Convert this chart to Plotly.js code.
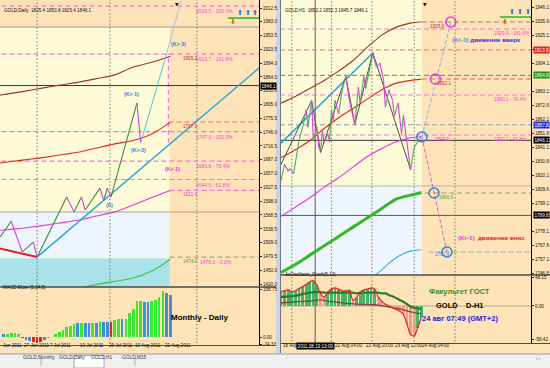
<!DOCTYPE html>
<html><head><meta charset="utf-8">
<script src="https://cdn.plot.ly/plotly-3.0.1.min.js"></script>
<style>html,body{margin:0;padding:0;background:#cbd5e2;}#chart{width:550px;height:368px;}</style>
</head><body><div id="chart"></div>
<script>
// ================= DATA : LEFT (GOLD, Daily) =================
const L_title = 'GOLD,Daily  1825.4 1853.8 1825.4 1846.1';
const L_maX    = [-2, 0, 5, 10, 15, 20, 25, 30, 35, 40, 45];
const L_maSlow = [1824, 1827, 1833, 1840, 1847, 1853, 1861, 1869, 1886, 1896, 1909];
const L_maMid  = [1679, 1681, 1686, 1691, 1697, 1703, 1712, 1721, 1728, 1742, 1767];
const L_maFast = [1534, 1536, 1540, 1545, 1551, 1557, 1566, 1575, 1590, 1606, 1621];
const L_maGreenX = [20, 22, 25, 30, 35, 40, 43, 45];
const L_maGreen  = [1408, 1414, 1419, 1426, 1433, 1448, 1462, 1474];
const L_maLabels = ['1905.2', '1767.9', '1621.4', '1474.0'];
const L_zzX = [-1, 2, 5, 8, 9, 17, 19, 21, 22, 26, 27, 28, 29, 36, 37];
const L_zzY = [1521, 1555, 1489, 1510, 1478, 1607, 1575, 1607, 1579, 1626, 1600, 1626, 1607, 1809, 1723];
const L_redX = [-2, 9], L_redY = [1498, 1478.1];
const L_trendX = [9, 70], L_trendY = [1478.1, 1890.4];
const L_projX = [37, 44, 48], L_projY = [1723, 1913.7, 2031];
const L_fibPrice = [2016.5, 1913.7, 1747.3, 1683.8, 1644.5, 1478.1];
const L_fibPct   = ['200.0%', '161.8%', '100.0%', '76.4%', '61.8%', '0.0%'];
const L_target = 1767.9;
const L_lastPrice = 1846.1;
const L_zoneTop = 1971.7, L_zoneMid = 1574.7, L_zoneLow = 1475;
const L_futureX = 44.8;
const L_gridX = [9, 28.7, 52.2];
const L_priceTicks = [2012.5,1983.0,1953.5,1923.5,1894.0,1864.5,1835.0,1805.0,1775.5,1746.0,1716.5,1687.0,1657.0,1627.5,1598.0,1568.5,1538.5,1509.0,1479.5,1450.0,1420.0];
const L_macdX = [0,1,2,3,4,5,6,7,8,9,10,11,12,13,14,15,16,17,18,19,20,21,22,23,24,25,26,27,28,29,30,31,32,33,34,35,36,37,38,39,40,41,42,43,44,45];
const L_macd  = [11,11,13,15,10,-3,-9,-11,-14,-20,-14,-9,-2,2,10,17,24,33,37,44,46,48,46,46,48,48,50,50,50,50,57,61,61,61,79,94,120,120,116,116,120,124,132,155,146,140];
const L_impulse = ['n','u','u','u','u','d','n','n','d','d','d','n','u','u','u','u','u','u','u','u','n','u','n','n','u','n','u','n','n','d','u','u','n','u','u','u','u','u','n','n','u','u','u','u','n','n'];
const L_macdTicks = [158.75, 0, -24.33], L_macdTickText = ['158.75', '0.00', '-24.33'];
const L_dateX = [5, 12, 20, 28, 35, 43];
const L_dateText = ['27 Jun 2011', '7 Jul 2011', '19 Jul 2011', '29 Jul 2011', '10 Aug 2011', '22 Aug 2011'];
const L_firstDate = 'Jun 2011';

// ================= DATA : RIGHT (GOLD, H1) =================
const R_title = 'GOLD,H1  1852.2 1852.3 1845.7 1846.1';
const R_maX    = [0, 8, 16, 24, 32, 40, 48, 56, 64, 72, 78];
const R_maSlow = [1874, 1879, 1885, 1891, 1898, 1906, 1916, 1925, 1931, 1934, 1935];
const R_maMid  = [1833, 1839, 1846, 1855, 1863, 1870, 1877, 1884, 1889, 1891, 1892];
const R_maFast = [1789, 1796, 1803, 1811, 1818, 1826, 1834, 1840, 1845, 1848, 1849];
const R_maGreen= [1747, 1753, 1760, 1767, 1774, 1781, 1788, 1795, 1802, 1805, 1807];
const R_maBlueX = [50, 56, 60, 64, 68, 72, 78];
const R_maBlue  = [1743, 1749, 1754, 1758, 1761, 1763, 1764];
const R_zzX = [0,2,4,5,7,10,12,14,15,17,18,20,21,22,23,24,26,27,28,29,30,32,34,36,38,41,43,44,46,47,51,53,55,57,58,60,62,63,65,67,68,70,72,74,78];
const R_zzY = [1816,1828,1823,1825,1821,1846,1856,1869,1856,1876,1846,1856,1841,1838,1853,1844,1851,1845,1869,1861,1876,1866,1884,1894,1876,1858,1886,1874,1894,1885,1911,1901,1904,1891,1871,1884,1876,1864,1874,1851,1865,1844,1824,1841,1849];
const R_gzX = [0, 17, 22, 36, 41, 51, 72];
const R_gzY = [1828, 1876, 1837, 1894, 1858, 1912, 1824];
const R_trendX = [0, 51], R_trendY = [1844, 1911.6];
const R_fibPrice = [1929.6, 1880.1, 1850.1];
const R_fibPct = ['161.8%', '76.4%', '61.8%'];
const R_levels = [1913.9, 1894.8, 1857.8];
const R_lastPrice = 1846.1, R_lowLine = 1789.8;
const R_zoneMid = 1811.9;
const R_futureX = 78.3;
const R_upX = [78.3, 94.4], R_upY = [1848.6, 1934.85];
const R_dnX = [78.3, 92.2], R_dnY = [1848.6, 1762.35];
const R_magCircX = [94.4, 85.8], R_magCircY = [1934.85, 1892.1];
const R_bluCircX = [78.3, 85, 92.2], R_bluCircY = [1848.6, 1806.6, 1762.35];
const R_targets = [1934.85, 1892.1, 1806.6, 1762.35];
const R_targetLabels = ['1935.0', '1892.1', '1848.6', '1806.6', '1762.4'];
const R_gridX = [6, 28, 50.5, 74, 96.7];
const R_crossX = 19, R_crossText = '2011.08.19 13:00';
const R_priceTicks = [1946.1,1935.6,1925.1,1914.6,1904.1,1883.1,1872.6,1862.1,1851.6,1841.1,1830.6,1820.1,1809.6,1799.1,1778.1,1767.6,1757.1,1746.6];
const R_tagPrice = [1913.9, 1894.8, 1857.8, 1846.1, 1789.8];
const R_oscX = [0,2,4,6,8,10,12,14,16,18,20,22,24,26,28,30,32,34,36,38,40,42,44,46,48,50,52,54,56,58,60,62,64,66,68,70,72,74,76,78];
const R_osc  = [24,25,27,24,25,29,32,36,40,42,35,20,15,23,28,30,28,25,25,26,9,14,23,27,28,30,28,15,8,3,0,-3,-6,-9,-14,-30,-48,-50,-36,-18];
const R_sig  = [15,15,16,16,17,18,20,21,22,23,23,23,22,22,22,22,22,22,22,22,22,21,22,22,22,22,22,22,21,21,18,16,13,10,7,3,-1,-3,-4,-5];
const R_slowX = [0, 8, 16, 22, 28, 34, 42, 52, 60, 66, 72, 78];
const R_slow  = [5, 7, 8, 10, 7, 5, 3, 2, -2, -5, -10, -13];
const R_oscTicks = [48.15, 0, -56.42], R_oscTickText = ['48.15', '0.00', '-56.42'];
const R_dateX = [0, 29, 46, 62, 77];
const R_dateText = ['18 Aug 2011', '22 Aug 04:00', '22 Aug 20:00', '23 Aug 12:00', '24 Aug 04:00'];
const TABS = ['GOLD,Monthly', 'GOLD,Daily', 'GOLD,H1', 'GOLD,M15'];

// ================= STYLE =================
const FONT = 'Liberation Sans, Arial, sans-serif';
const PEACH = '#fde3b7', YELLOW = '#fdfad7', LBLUE = '#eef5fc', CYANZ = '#a9e2e9', FRAME = '#cbd5e2';
const PINK = '#f27ad4', PINKTXT = '#ff3fc8';
const P = px => px / 550, Q = py => 1 - py / 368;
const tickFont = {family: FONT, size: 4.6, color: '#111'};

const shapes = [];
function rectPaper(x0, x1, y0, y1, fill, layer, line) {
  shapes.push({type: 'rect', xref: 'paper', yref: 'paper', x0: P(x0), x1: P(x1), y0: Q(y1), y1: Q(y0),
    fillcolor: fill, line: line || {width: 0}, layer: layer || 'below'});
}
function linePaper(x0, x1, y0, y1, color, w) {
  shapes.push({type: 'line', xref: 'paper', yref: 'paper', x0: P(x0), x1: P(x1), y0: Q(y0), y1: Q(y1),
    line: {color: color, width: w || 1}, layer: 'above'});
}
function zone(xr, yr, x0, x1, y0, y1, fill) {
  shapes.push({type: 'rect', xref: xr, yref: yr, x0, x1, y0, y1, fillcolor: fill, line: {width: 0}, layer: 'below'});
}
function hline(xr, yr, y, x0, x1, color, dash, w) {
  shapes.push({type: 'line', xref: xr, yref: yr, x0, x1, y0: y, y1: y, line: {color, width: w || 1, dash: dash || 'solid'}, layer: 'below'});
}
function vline(xr, yr, x, y0, y1, color, dash, w) {
  shapes.push({type: 'line', xref: xr, yref: yr, x0: x, x1: x, y0, y1, line: {color, width: w || 1, dash: dash || 'solid'}, layer: 'below'});
}
const DASH = '5px,3px', DOT = '1.5px,2px';

rectPaper(0, 276, 0, 353, PEACH);
rectPaper(280, 550, 0, 353, PEACH);
rectPaper(0, 550, 354, 368, '#efefef');
linePaper(0, 550, 354, 354, '#9aa6b8', 1);
rectPaper(74, 104, 355.5, 368, '#ffffff', 'above', {color: '#8a96aa', width: 0.8});
[41, 135].forEach(x => linePaper(x, x, 358, 366, '#a0a0a0', 0.8));
linePaper(280.5, 280.5, 0, 353, '#6f7780', 1);

zone('x', 'y', -5, L_futureX, L_zoneMid, L_zoneTop, YELLOW);
zone('x', 'y', -5, L_futureX, L_zoneLow, L_zoneMid, LBLUE);
zone('x', 'y', -5, L_futureX, 1300, L_zoneLow, CYANZ);
hline('x', 'y', L_zoneTop, -5, 80, '#9c9c9c');
hline('x', 'y', L_zoneMid, -5, 80, '#a4a4a4');
L_gridX.forEach(g => { vline('x', 'y', g, 1300, 2100, '#7a7a7a', DOT); vline('x2', 'y2', g, -100, 300, '#7a7a7a', DOT); });
L_fibPrice.forEach((p, i) => {
  if (i < 5) hline('x', 'y', p, -5, 80, PINK, DASH, 1.2);
  else hline('x', 'y', p, L_futureX, 80, '#a5ab80', DASH, 1.2);
});
hline('x', 'y', L_target, 44.5, 80, '#f5793f', DASH, 1.2);
hline('x', 'y', L_maFast[L_maFast.length - 1], L_futureX, 80, PINK, DASH, 1.2);
vline('x', 'y', 44.5, L_projY[0], L_fibPrice[1], PINK, DASH, 1.2);
hline('x', 'y', L_lastPrice, -5, 80, '#333333', 'solid', 1);

zone('x3', 'y3', -5, R_futureX, R_zoneMid, 2000, YELLOW);
zone('x3', 'y3', -5, R_futureX, 1700, R_zoneMid, LBLUE);
hline('x3', 'y3', R_zoneMid, -5, 150, '#b4b4b4');
R_gridX.forEach(g => { vline('x3', 'y3', g, 1700, 2000, '#7a7a7a', DOT); vline('x4', 'y4', g, -100, 100, '#7a7a7a', DOT); });
vline('x3', 'y3', R_crossX, 1700, 2000, '#5a5a5a', 'solid', 1);
vline('x4', 'y4', R_crossX, -100, 100, '#5a5a5a', 'solid', 1);
R_fibPrice.forEach(p => hline('x3', 'y3', p, -5, 150, PINK, DASH, 1.2));
hline('x3', 'y3', R_levels[0], -5, 150, '#ef8a80', DASH, 1.2);
hline('x3', 'y3', R_levels[1], -5, 150, '#62ae5e', DASH, 1.2);
hline('x3', 'y3', R_levels[2], -5, 150, '#9a9aaa', DASH, 1.2);
hline('x3', 'y3', R_targets[0], R_futureX, 150, '#b98070', DASH, 1.2);
hline('x3', 'y3', R_targets[1], R_futureX, 150, '#e8684e', DASH, 1.2);
hline('x3', 'y3', R_targets[2], 80, 150, '#8fa466', DASH, 1.2);
hline('x3', 'y3', R_targets[3], 82, 150, '#93a6bd', DASH, 1.2);
hline('x3', 'y3', R_lastPrice, -5, 150, '#333333', 'solid', 1);
hline('x3', 'y3', R_lowLine, -5, 150, '#555555', 'solid', 1);
hline('x4', 'y4', 0, -5, 150, '#9a9a9a', 'solid', 0.8);

linePaper(0, 276, 287, 287, '#4a4a4a', 1.3);
linePaper(0, 276, 345.5, 345.5, '#4a4a4a', 1);
linePaper(281, 550, 275, 275, '#4a4a4a', 1.3);
linePaper(281, 550, 343.5, 343.5, '#4a4a4a', 1);
shapes.push({type:'line', xref:'x', yref:'y', x0:60.6, x1:69, y0:1991, y1:1991, line:{color:'#33bb22', width:1.6}, layer:'above'});
shapes.push({type:'line', xref:'x3', yref:'y3', x0:121.7, x1:138.9, y0:1938.6, y1:1938.6, line:{color:'#33bb22', width:1.6}, layer:'above'});

// ================= TRACES =================
function ln(x, y, xa, ya, color, w, extra) {
  return Object.assign({type: 'scatter', mode: 'lines', x, y, xaxis: xa, yaxis: ya,
    line: Object.assign({color, width: w || 1}, (extra && extra.line) || {}), hoverinfo: 'skip'}, extra && extra.rest || {});
}
function zigzag(xs, ys, xa, ya, upC, dnC, w) {
  const ux = [], uy = [], dx = [], dy = [];
  for (let i = 1; i < xs.length; i++) {
    const up = ys[i] >= ys[i - 1];
    (up ? ux : dx).push(xs[i - 1], xs[i], null);
    (up ? uy : dy).push(ys[i - 1], ys[i], null);
  }
  return [ln(ux, uy, xa, ya, upC, w), ln(dx, dy, xa, ya, dnC, w)];
}
const spline = {line: {shape: 'spline', smoothing: 0.7}};
const traces = [];
traces.push(ln(L_maX, L_maSlow, 'x', 'y', '#a3312a', 1.1, spline));
traces.push(ln(L_maX, L_maMid, 'x', 'y', '#e3241c', 1.1, spline));
traces.push(ln(L_maX, L_maFast, 'x', 'y', '#e633e0', 1.1, spline));
traces.push(ln(L_maGreenX, L_maGreen, 'x', 'y', '#3fc24a', 1.1, spline));
traces.push(ln(L_redX, L_redY, 'x', 'y', '#e02020', 2));
traces.push(ln(L_trendX, L_trendY, 'x', 'y', '#22a6da', 1.5));
traces.push(...zigzag(L_zzX, L_zzY, 'x', 'y', '#3a8c3a', '#e03ce0', 1.1));
traces.push(ln(L_projX.slice(0, 2), L_projY.slice(0, 2), 'x', 'y', '#4cc6d6', 1));
traces.push(ln(L_projX.slice(1), L_projY.slice(1), 'x', 'y', '#a6c0de', 1));
const impColor = {u: '#3de62f', d: '#ee2222', n: '#3b8fe0'};
traces.push({type: 'bar', x: L_macdX, y: L_macd, xaxis: 'x2', yaxis: 'y2', width: 0.72,
  marker: {color: L_impulse.map(s => impColor[s]), line: {width: 0}}, hoverinfo: 'skip'});
traces.push(ln(R_maX, R_maSlow, 'x3', 'y3', '#a3312a', 1.1, spline));
traces.push(ln(R_maX, R_maMid, 'x3', 'y3', '#e3241c', 1.1, spline));
traces.push(ln(R_maX, R_maFast, 'x3', 'y3', '#e633e0', 1.1, spline));
traces.push(ln(R_maX, R_maGreen, 'x3', 'y3', '#35b828', 3, spline));
traces.push(ln(R_maBlueX, R_maBlue, 'x3', 'y3', '#35aee0', 1.1, spline));
traces.push(ln(R_trendX, R_trendY, 'x3', 'y3', '#22a6da', 1.5));
traces.push(ln(R_gzX, R_gzY, 'x3', 'y3', '#4e4e4e', 1));
traces.push(...zigzag(R_zzX, R_zzY, 'x3', 'y3', '#4fae5a', '#e03ce0', 1.1));
traces.push(ln(R_upX, R_upY, 'x3', 'y3', '#8ab2de', 1, {line: {dash: '4px,2px'}}));
traces.push(ln(R_dnX, R_dnY, 'x3', 'y3', '#e25ad2', 1, {line: {dash: '4px,2px'}}));
traces.push({type: 'scatter', mode: 'markers', x: R_magCircX, y: R_magCircY, xaxis: 'x3', yaxis: 'y3',
  marker: {symbol: 'circle-open', size: 10, color: '#e23ad8', line: {width: 1.5}}, hoverinfo: 'skip'});
traces.push({type: 'scatter', mode: 'markers', x: R_bluCircX, y: R_bluCircY, xaxis: 'x3', yaxis: 'y3',
  marker: {symbol: 'circle-open', size: 10, color: '#3a7fd8', line: {width: 1.5}}, hoverinfo: 'skip'});
const histCol = R_osc.map((v, i) => (v < R_sig[i] && i > 0 && v < R_osc[i - 1]) ? '#f29a90' : '#45b56a');
traces.push({type: 'bar', x: R_oscX, y: R_osc, xaxis: 'x4', yaxis: 'y4', width: 1.5,
  marker: {color: histCol, line: {width: 0}}, hoverinfo: 'skip'});
traces.push(ln(R_slowX, R_slow, 'x4', 'y4', '#7b4a3a', 1.3, spline));
traces.push(ln(R_oscX, R_sig, 'x4', 'y4', '#2b7a2b', 2.2, spline));
traces.push(ln(R_oscX, R_osc, 'x4', 'y4', '#ee1c1c', 1.2, spline));

// ================= ANNOTATIONS =================
const ann = [];
function A(o) { ann.push(Object.assign({showarrow: false, font: {family: FONT, size: 4.6, color: '#111'}}, o)); }
A({xref: 'paper', yref: 'paper', x: P(2), y: Q(6), xanchor: 'left', text: L_title});
A({xref: 'paper', yref: 'paper', x: P(1), y: Q(292), xanchor: 'left', text: 'MACD Elder (5,34,5)'});
A({xref: 'paper', yref: 'paper', x: P(283), y: Q(6), xanchor: 'left', text: R_title});
A({xref: 'paper', yref: 'paper', x: P(283), y: Q(279), xanchor: 'left', text: 'AcOscillator_Stoch(5,13)'});
L_fibPrice.forEach((p, i) => A({xref: 'x', yref: 'y', x: i === 5 ? 52.5 : 51.5, y: p, xanchor: 'left', yanchor: 'top',
  text: p.toFixed(1) + ' - ' + L_fibPct[i], font: {family: FONT, size: 5, color: PINKTXT}}));
const L_labY = [L_fibPrice[1], L_target, L_maFast[L_maFast.length - 1], L_fibPrice[5]];
const L_labC = ['#a3312a', '#e3241c', '#e633e0', '#35a83a'];
L_maLabels.forEach((t, i) => A({xref: 'x', yref: 'y', x: 47.8, y: L_labY[i], xanchor: 'left', yanchor: 'top', text: t,
  font: {family: FONT, size: 4.6, color: L_labC[i]}}));
const krFont = c => ({family: FONT, size: 5.6, color: c});
A({xref: 'x', yref: 'y', x: 34.4, y: 1828, text: '<b>(Kr-1)</b>', font: krFont('#3a8bd6')});
A({xref: 'x', yref: 'y', x: 47.1, y: 1935, text: '<b>(Kr-3)</b>', font: krFont('#3a8bd6')});
A({xref: 'x', yref: 'y', x: 36.3, y: 1708, text: '<b>(Kr-2)</b>', font: krFont('#3a8bd6')});
A({xref: 'x', yref: 'y', x: 28.7, y: 1590, text: '<b>(0)</b>', font: krFont('#3a8bd6')});
A({xref: 'x', yref: 'y', x: 45.6, y: 1667, text: '<b>(Kr-1)</b>', font: krFont('#e23ad8')});
const arrowFont = c => ({family: 'DejaVu Sans, sans-serif', size: 7, color: c});
[63.8, 65.9, 67.9].forEach(x => A({xref: 'x', yref: 'y', x, y: 2002, text: '⬆', font: arrowFont('#2a6fd8')}));
A({xref: 'x', yref: 'y', x: 61.9, y: 1982, text: '⬇', font: arrowFont('#f05a14')});
[128.3, 132.8, 137.2].forEach(x => A({xref: 'x3', yref: 'y3', x, y: 1942, text: '⬆', font: arrowFont('#2a6fd8')}));
A({xref: 'x3', yref: 'y3', x: 124.4, y: 1935, text: '⬇', font: arrowFont('#f05a14')});
A({xref: 'x', yref: 'paper', x: 46.8, y: 1, yanchor: 'top', text: '▼', font: {family: 'DejaVu Sans', size: 4.5, color: '#000'}});
A({xref: 'x3', yref: 'paper', x: 80, y: 1, yanchor: 'top', text: '▼', font: {family: 'DejaVu Sans', size: 4.5, color: '#000'}});
A({xref: 'x2', yref: 'y2', x: 53, y: 64, text: '<b>Monthly - Daily</b>', font: {family: FONT, size: 8, color: '#000'}});
A({xref: 'paper', yref: 'y', x: P(260), y: L_lastPrice, xanchor: 'left', text: L_lastPrice.toFixed(1), bgcolor: '#000',
  borderpad: 0.5, font: {family: FONT, size: 4.6, color: '#fff'}});
A({xref: 'paper', yref: 'paper', x: P(0.5), y: Q(349.5), xanchor: 'left', text: L_firstDate});
L_dateX.forEach((x, i) => A({xref: 'x2', yref: 'paper', x, y: Q(349.5), xanchor: 'left', text: L_dateText[i]}));
R_fibPrice.forEach((p, i) => A({xref: 'x3', yref: 'y3', x: 117, y: p, xanchor: 'left', yanchor: 'top', yshift: 0.5,
  text: p.toFixed(1) + ' - ' + R_fibPct[i], font: {family: FONT, size: 4.8, color: PINKTXT}}));
const R_labPos = [[81.5, R_targets[0], '#a3312a'], [85.8, R_targets[1], '#e3241c'], [84.3, R_fibPrice[2], '#e633e0'],
                  [86.5, R_targets[2], '#35a83a'], [84.2, R_targets[3] + 1.5, '#3a7fd8']];
R_targetLabels.forEach((t, i) => A({xref: 'x3', yref: 'y3', x: R_labPos[i][0], y: R_labPos[i][1], xanchor: 'left', yanchor: 'top',
  text: t, font: {family: FONT, size: 4.6, color: R_labPos[i][2]}}));
A({xref: 'x3', yref: 'y3', x: 93.8, y: 1921.5, xanchor: 'left',
  text: '<b><span style="color:#4a9ad8">(Kr-3)</span> движение вверх</b>', font: {family: FONT, size: 6.2, color: '#1f36d8'}});
A({xref: 'x3', yref: 'y3', x: 97, y: 1773.6, xanchor: 'left',
  text: '<b><span style="color:#e23ad8">(Kr-1)</span>  движение вниз</b>', font: {family: FONT, size: 6.2, color: '#e8201c'}});
const tagCol = ['#e8201c', '#1d9a1d', '#2233dd', '#000000', '#000000'];
R_tagPrice.forEach((p, i) => A({xref: 'paper', yref: 'y3', x: P(533), y: p, xanchor: 'left', text: p.toFixed(1), bgcolor: tagCol[i],
  borderpad: 0.5, font: {family: FONT, size: 4.6, color: '#fff'}}));
A({xref: 'x4', yref: 'y4', x: 99.4, y: 23.3, text: '<b>Факультет ГОСТ</b>', font: {family: FONT, size: 7.5, color: '#2f8f2f'}});
A({xref: 'x4', yref: 'y4', x: 99.4, y: 0, text: '<b>GOLD\u00a0\u00a0\u00a0 D-H1</b>', font: {family: FONT, size: 7.5, color: '#000'}});
A({xref: 'x4', yref: 'y4', x: 99.4, y: -21.7, text: '<b>24 авг 07:49 (GMT+2)</b>', font: {family: FONT, size: 7.5, color: '#2222e0'}});
R_dateX.forEach((x, i) => A({xref: 'x4', yref: 'paper', x, y: Q(349.5), xanchor: 'left', text: R_dateText[i]}));
A({xref: 'x4', yref: 'paper', x: R_crossX, y: Q(349.5), text: R_crossText, bgcolor: '#000', borderpad: 0.6,
  font: {family: FONT, size: 4.6, color: '#fff'}});
const tabCx = [21, 57, 89, 120];
TABS.forEach((t, i) => A({xref: 'paper', yref: 'paper', x: P(tabCx[i]), y: Q(362), text: t, font: {family: FONT, size: 4.8, color: '#333'}}));
A({xref: 'paper', yref: 'paper', x: P(543), y: Q(363), text: '‹ ›', font: {family: FONT, size: 5, color: '#888'}});

// ================= LAYOUT =================
function xa(dom, rng, anchor) {
  return {domain: dom, range: rng, anchor, showgrid: false, zeroline: false, showticklabels: false, ticks: '', showline: false, fixedrange: true};
}
function ya(dom, rng, anchor, tv, tt) {
  return {domain: dom, range: rng, anchor, side: 'right', showgrid: false, zeroline: false, showline: true, linecolor: '#000', linewidth: 1,
    ticks: 'outside', ticklen: 2, tickwidth: 0.8, tickcolor: '#000', tickvals: tv, ticktext: tt, tickfont: tickFont, fixedrange: true};
}
const layout = {
  width: 550, height: 368, autosize: false, margin: {l: 0, r: 0, t: 0, b: 0, pad: 0},
  paper_bgcolor: FRAME, plot_bgcolor: 'rgba(0,0,0,0)', showlegend: false, hovermode: false,
  font: {family: FONT, size: 5, color: '#111'}, bargap: 0,
  xaxis: xa([0, 259 / 550], [-1.03, 69], 'y'),
  yaxis: ya([1 - 287 / 368, 1], [1413.8, 2029.7], 'x', L_priceTicks, L_priceTicks.map(v => v.toFixed(1))),
  xaxis2: xa([0, 259 / 550], [-1.03, 69], 'y2'),
  yaxis2: ya([1 - 345 / 368, 1 - 287 / 368], [-25.5, 166.6], 'x2', L_macdTicks, L_macdTickText),
  xaxis3: xa([281 / 550, 531 / 550], [0, 138.9], 'y3'),
  yaxis3: ya([1 - 275 / 368, 1], [1745.1, 1951.35], 'x3', R_priceTicks, R_priceTicks.map(v => v.toFixed(1))),
  xaxis4: xa([281 / 550, 531 / 550], [0, 138.9], 'y4'),
  yaxis4: ya([1 - 343 / 368, 1 - 275 / 368], [-61.7, 51.5], 'x4', R_oscTicks, R_oscTickText),
  shapes, annotations: ann
};
Plotly.newPlot('chart', traces, layout, {staticPlot: true, displayModeBar: false});
</script>
</body></html>
